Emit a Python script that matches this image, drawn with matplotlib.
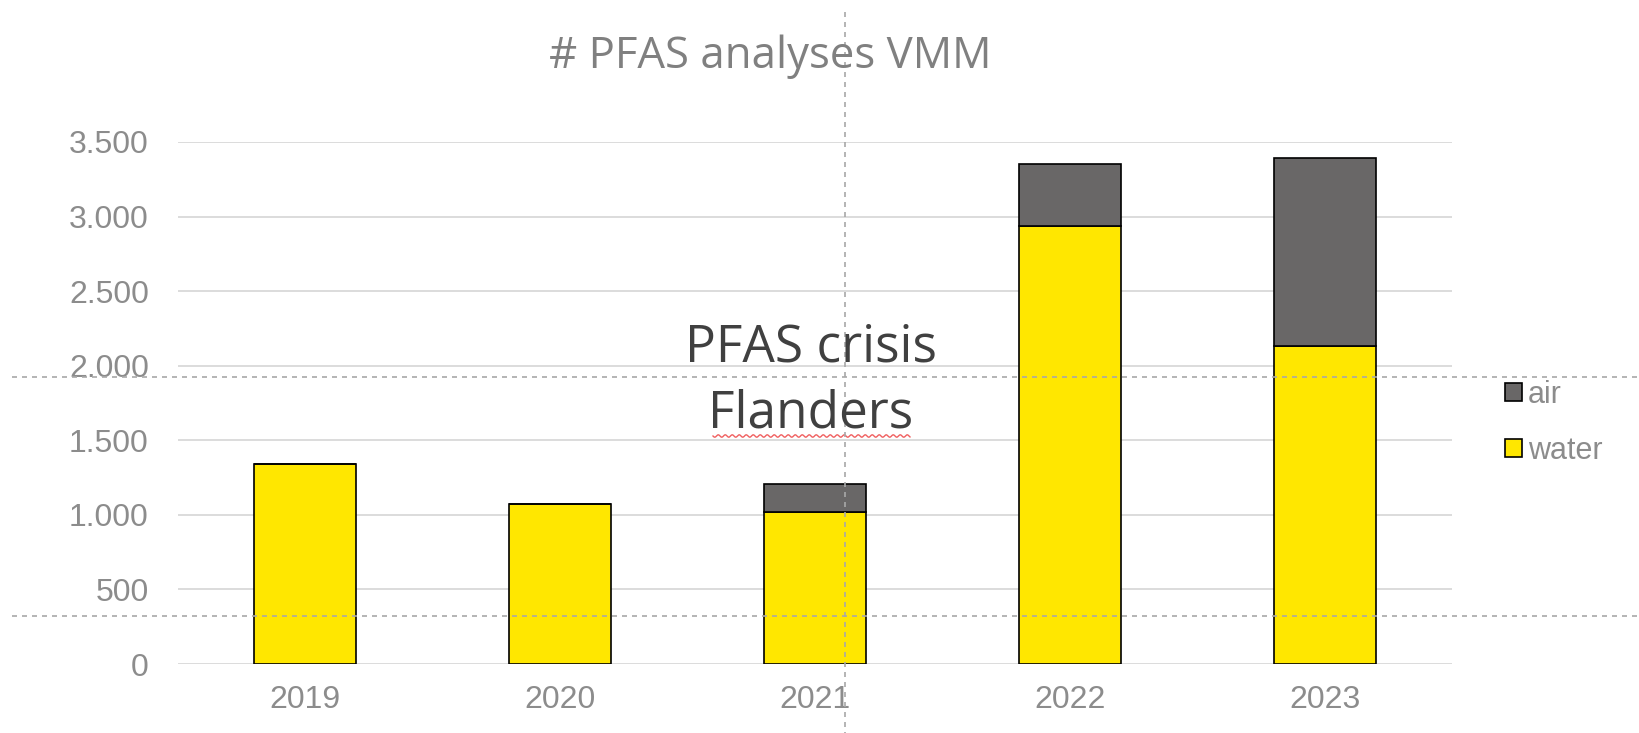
import numpy as np
import matplotlib
matplotlib.use("Agg")
import matplotlib.pyplot as plt
from matplotlib.patches import Patch
from matplotlib.lines import Line2D
from matplotlib.ticker import FuncFormatter

years = ["2019", "2020", "2021", "2022", "2023"]
water = [1340, 1070, 1020, 2940, 2130]
air = [0, 0, 190, 415, 1265]
yticks = [0, 500, 1000, 1500, 2000, 2500, 3000, 3500]

W, H = 1640, 733
fig = plt.figure(figsize=(W / 100, H / 100), dpi=100)
ax = fig.add_axes([178 / W, 1 - 664 / H, (1452 - 178) / W, (664 - 142) / H])

YELLOW = "#FFE700"
GREY = "#696767"
x = np.arange(len(years))
ax.bar(x, water, width=0.4, color=YELLOW, edgecolor="black", linewidth=1.2, zorder=3)
ax.bar(x, air, width=0.4, bottom=water, color=GREY, edgecolor="black", linewidth=1.2, zorder=3)

ax.set_xlim(-0.5, len(years) - 0.5)
ax.set_ylim(0, 3500)
ax.set_yticks(yticks)
ax.yaxis.set_major_formatter(FuncFormatter(lambda v, p: f"{int(v):,}".replace(",", ".")))
ax.set_xticks(x)
ax.set_xticklabels(years)
ax.grid(axis="y", color="#d9d9d9", linewidth=1.3, zorder=0)
ax.set_axisbelow(True)
for s in ax.spines.values():
    s.set_visible(False)
ax.tick_params(axis="both", length=0, labelsize=23, labelcolor="#8c8c8c")
ax.tick_params(axis="y", pad=21)
ax.tick_params(axis="x", pad=15)
for lab in ax.get_xticklabels() + ax.get_yticklabels():
    lab.set_fontfamily("Liberation Sans")

fig.text(770 / W, 1 - 68 / H, "# PFAS analyses VMM", ha="center", va="baseline",
         fontsize=31.5, color="#808080", family="Open Sans")

fig.text(776 / W * 1.0 + (811 - 776) / W, 1 - 362 / H, "PFAS crisis", ha="center", va="baseline",
         fontsize=37, color="#404040", family="Open Sans")
fig.text(811 / W, 1 - 428 / H, "Flanders", ha="center", va="baseline",
         fontsize=37, color="#404040", family="Open Sans")

# spell-check squiggle under "Flanders"
sx = np.linspace(713, 910, 300)
sy = 436 + 1.2 * np.sin((sx - 713) / 7.0 * 2 * np.pi)
fig.add_artist(Line2D(sx / W, 1 - sy / H, color="#f06060", linewidth=1.0, transform=fig.transFigure))

# slide guide lines
guide = dict(color="#a8a8a8", linewidth=1.2, linestyle=(0, (3, 3)), transform=fig.transFigure)
fig.add_artist(Line2D([845 / W, 845 / W], [1 - 12 / H, 0], **guide))
fig.add_artist(Line2D([12 / W, 1], [1 - 377 / H, 1 - 377 / H], **guide))
fig.add_artist(Line2D([12 / W, 1], [1 - 616 / H, 1 - 616 / H], **guide))

handles = [Patch(facecolor=GREY, edgecolor="black", linewidth=1.2, label="air"),
           Patch(facecolor=YELLOW, edgecolor="black", linewidth=1.2, label="water")]
leg = fig.legend(handles=handles, loc="upper left", bbox_to_anchor=(1505 / W, 1 - 380 / H),
                 frameon=False, handlelength=0.55, handleheight=0.55,
                 handletextpad=0.2, labelspacing=0.85, borderpad=0, borderaxespad=0,
                 prop={"family": "Liberation Sans", "size": 22})
for t in leg.get_texts():
    t.set_color("#8c8c8c")

fig.savefig("out.png", dpi=100)
